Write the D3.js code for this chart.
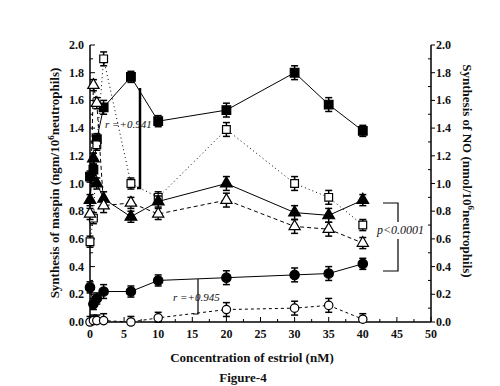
<!doctype html>
<html lang="en">
<head>
<meta charset="UTF-8">
<title>Figure-4</title>
<script src="https://d3js.org/d3.v7.min.js"></script>
<style>
  body { margin: 0; background: #fff; }
  text { font-family: "Liberation Serif", "DejaVu Serif", serif; fill: #111; }
</style>
</head>
<body>
<script>
  // concentration of estriol (nM)
  var conc = [0, 0.5, 1, 2, 6, 10, 20, 30, 35, 40];

  // filled markers = solid lines, open markers = broken lines
  var sqFilled  = [1.05, 1.10, 1.32, 1.55, 1.77, 1.45, 1.53, 1.80, 1.57, 1.38];
  var sqOpen    = [0.58, 0.75, 1.28, 1.90, 1.00, 0.90, 1.39, 1.00, 0.90, 0.70];
  var triFilled = [0.88, 1.18, 1.00, 0.89, 0.76, 0.87, 1.00, 0.79, 0.77, 0.88];
  var triOpen   = [0.78, 1.71, 1.58, 0.84, 0.86, 0.78, 0.88, 0.69, 0.67, 0.57];
  var cirFilled = [0.25, 0.13, 0.17, 0.22, 0.22, 0.30, 0.32, 0.34, 0.35, 0.42];
  var cirOpen   = [0.00, 0.01, 0.01, 0.01, 0.00, 0.03, 0.09, 0.10, 0.12, 0.02];
  var errBar    = [0.04, 0.04, 0.04, 0.05, 0.04, 0.04, 0.05, 0.05, 0.05, 0.04];

  var xTicks = [0, 5, 10, 15, 20, 25, 30, 35, 40, 45, 50];
  var yTicks = [0, 0.2, 0.4, 0.6, 0.8, 1.0, 1.2, 1.4, 1.6, 1.8, 2.0];

  var width = 500, height = 386;
  var pLeft = 90, pRight = 431, pTop = 45, pBottom = 322;

  var svg = d3.select("body").append("svg")
      .attr("width", width)
      .attr("height", height);

  var x = d3.scaleLinear().domain([0, 50]).range([pLeft, pRight]);
  var y = d3.scaleLinear().domain([0, 2]).range([pBottom, pTop]);

  // axes (no top border)
  var ax = svg.append("g").attr("stroke", "#000").attr("fill", "none");
  ax.append("line").attr("x1", pLeft).attr("x2", pLeft).attr("y1", pTop).attr("y2", pBottom).attr("stroke-width", 1.5);
  ax.append("line").attr("x1", pRight).attr("x2", pRight).attr("y1", pTop).attr("y2", pBottom).attr("stroke-width", 1.5);
  ax.append("line").attr("x1", pLeft).attr("x2", pRight).attr("y1", pBottom).attr("y2", pBottom).attr("stroke-width", 1.5);

  // x ticks (inside), minor at half steps
  d3.range(0, 50.01, 2.5).forEach(function(v, i) {
    var major = i % 2 === 0;
    ax.append("line").attr("x1", x(v)).attr("x2", x(v))
      .attr("y1", pBottom).attr("y2", pBottom - (major ? 5 : 3)).attr("stroke-width", 1);
  });
  // y ticks on both axes
  d3.range(0, 2.001, 0.1).forEach(function(v, i) {
    var major = i % 2 === 0;
    ax.append("line").attr("x1", pLeft).attr("x2", pLeft + (major ? 5 : 3))
      .attr("y1", y(v)).attr("y2", y(v)).attr("stroke-width", 1);
    if (major) {
      ax.append("line").attr("x1", pRight).attr("x2", pRight + 4)
        .attr("y1", y(v)).attr("y2", y(v)).attr("stroke-width", 1);
    } else {
      ax.append("line").attr("x1", pRight).attr("x2", pRight - 3)
        .attr("y1", y(v)).attr("y2", y(v)).attr("stroke-width", 1);
    }
  });

  svg.selectAll(".xt").data(xTicks).enter().append("text")
      .attr("x", function(d) { return x(d); })
      .attr("y", pBottom + 16)
      .attr("text-anchor", "middle")
      .attr("font-size", 12).attr("font-weight", "bold")
      .text(function(d) { return d; });

  svg.selectAll(".yl").data(yTicks).enter().append("text")
      .attr("x", pLeft - 6)
      .attr("y", function(d) { return y(d) + 4; })
      .attr("text-anchor", "end")
      .attr("font-size", 12).attr("font-weight", "bold")
      .text(function(d) { return d.toFixed(1); });

  svg.selectAll(".yr").data(yTicks).enter().append("text")
      .attr("x", pRight + 5)
      .attr("y", function(d) { return y(d) + 4; })
      .attr("font-size", 12).attr("font-weight", "bold")
      .text(function(d) { return d.toFixed(1); });

  // axis titles
  var lt = svg.append("text")
      .attr("transform", "translate(59,183) rotate(-90)")
      .attr("text-anchor", "middle")
      .attr("font-size", 13).attr("font-weight", "bold");
  lt.append("tspan").text("Synthesis of maspin (ngm/10");
  lt.append("tspan").attr("dy", -5).attr("font-size", 9).text("6");
  lt.append("tspan").attr("dy", 5).text("neutrophils)");

  var rt = svg.append("text")
      .attr("transform", "translate(463,171) rotate(90)")
      .attr("text-anchor", "middle")
      .attr("font-size", 13).attr("font-weight", "bold");
  rt.append("tspan").text("Synthesis of NO (nmol/10");
  rt.append("tspan").attr("dy", -5).attr("font-size", 9).text("6");
  rt.append("tspan").attr("dy", 5).text("neutrophils)");

  svg.append("text").attr("x", 252).attr("y", 362).attr("text-anchor", "middle")
      .attr("font-size", 13).attr("font-weight", "bold").text("Concentration of estriol (nM)");
  svg.append("text").attr("x", 243).attr("y", 382).attr("text-anchor", "middle")
      .attr("font-size", 13).attr("font-weight", "bold").text("Figure-4");

  // series
  var series = [
    { v: sqFilled,  shape: d3.symbolSquare,   fill: "#000", dash: null,  size: 75 },
    { v: sqOpen,    shape: d3.symbolSquare,   fill: "#fff", dash: "1,3", size: 60 },
    { v: triFilled, shape: d3.symbolTriangle, fill: "#000", dash: null,  size: 60 },
    { v: triOpen,   shape: d3.symbolTriangle, fill: "#fff", dash: "4,3", size: 55 },
    { v: cirFilled, shape: d3.symbolCircle,   fill: "#000", dash: null,  size: 70 },
    { v: cirOpen,   shape: d3.symbolCircle,   fill: "#fff", dash: "3,3", size: 55 }
  ];

  var line = d3.line()
      .x(function(d) { return x(d[0]); })
      .y(function(d) { return y(d[1]); });

  series.forEach(function(s) {
    var pts = conc.map(function(c, i) { return [c, s.v[i], errBar[i]]; });
    var g = svg.append("g");
    g.append("path").datum(pts)
        .attr("d", line)
        .attr("fill", "none").attr("stroke", "#000").attr("stroke-width", 1)
        .attr("stroke-dasharray", s.dash);
    pts.forEach(function(p) {
      var px = x(p[0]), y1 = y(p[1] + p[2]), y2 = y(Math.max(0, p[1] - p[2]));
      g.append("line").attr("x1", px).attr("x2", px).attr("y1", y1).attr("y2", y2)
          .attr("stroke", "#000").attr("stroke-width", 1.5);
      [y1, y2].forEach(function(yy) {
        g.append("line").attr("x1", px - 3.5).attr("x2", px + 3.5).attr("y1", yy).attr("y2", yy)
            .attr("stroke", "#000").attr("stroke-width", 1.5);
      });
    });
    g.selectAll("path.m").data(pts).enter().append("path")
        .attr("class", "m")
        .attr("transform", function(d) { return "translate(" + x(d[0]) + "," + y(d[1]) + ")"; })
        .attr("d", d3.symbol().type(s.shape).size(s.size))
        .attr("fill", s.fill).attr("stroke", "#000").attr("stroke-width", 1.2);
  });

  // annotations
  var an = svg.append("g").attr("fill", "none").attr("stroke", "#000");
  an.append("path").attr("d", "M140,88 L140,188 L137,188").attr("stroke-width", 2.5);
  svg.append("text").attr("x", 105).attr("y", 128).attr("font-size", 11)
      .attr("font-style", "italic").text("r =+0.941");

  an.append("path").attr("d", "M198,279 L198,314 L193,314").attr("stroke-width", 1.2);
  svg.append("text").attr("x", 173).attr("y", 301).attr("font-size", 11)
      .attr("font-style", "italic").text("r =+0.945");

  an.append("path").attr("d", "M383,203 L398,203 L398,222").attr("stroke-width", 1.2);
  an.append("path").attr("d", "M398,239 L398,271 L383,271").attr("stroke-width", 1.2);
  svg.append("text").attr("x", 377).attr("y", 234).attr("font-size", 12)
      .attr("font-style", "italic").text("p<0.0001");
</script>
</body>
</html>
